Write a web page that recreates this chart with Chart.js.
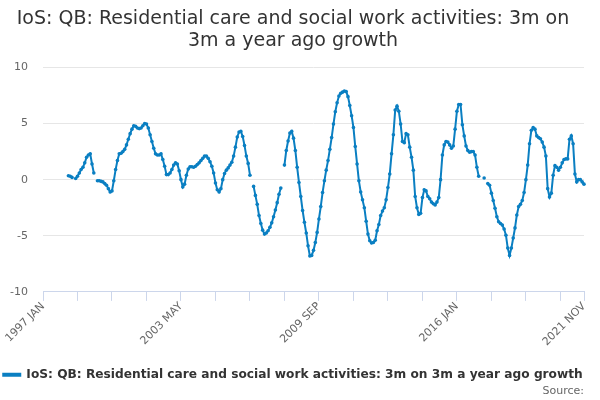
<!DOCTYPE html>
<html>
<head>
<meta charset="utf-8">
<script src="https://cdn.jsdelivr.net/npm/chart.js@4.4.1/dist/chart.umd.min.js"></script>
<style>
  html, body { margin: 0; padding: 0; background: #ffffff; }
  #wrap { width: 600px; height: 400px; }
</style>
</head>
<body>
<div id="wrap"><canvas id="c" width="600" height="400"></canvas></div>
<script>
// ---- data ----
const titleLines = ['IoS: QB: Residential care and social work activities: 3m on', '3m a year ago growth'];
const seriesName = 'IoS: QB: Residential care and social work activities: 3m on 3m a year ago growth';
const sourceText = 'Source:';
const monthNames = ['JAN','FEB','MAR','APR','MAY','JUN','JUL','AUG','SEP','OCT','NOV','DEC'];
const startYear = 1997;
const endYear = 2021, endMonth = 11; // NOV
const yTicks = [-10, -5, 0, 5, 10];
const labelEvery = 76;   // labelled ticks: 1997 JAN, 2003 MAY, 2009 SEP, 2016 JAN, 2021 NOV
const tickEvery = 19;    // minor tick marks

// monthly values, 1997 JAN .. 2021 NOV (null = no value)
const growth = [
  null,null,null,null,null,null,null,null,null,null,null,null,   // 1997
  null,null,0.35,0.3,0.2,null,0.1,0.3,0.6,0.9,1.1,1.5,           // 1998
  2.0,2.2,2.3,1.4,0.6,null,-0.1,-0.1,-0.15,-0.2,-0.35,-0.5,       // 1999
  -0.8,-1.1,-1.0,-0.1,0.9,1.7,2.3,2.35,2.5,2.7,3.1,3.6,           // 2000
  4.1,4.5,4.8,4.75,4.6,4.55,4.6,4.8,5.0,4.95,4.6,4.0,             // 2001
  3.4,2.8,2.3,2.2,2.2,2.3,1.8,1.2,0.45,0.45,0.6,0.9,              // 2002
  1.3,1.5,1.4,0.8,0.0,-0.65,-0.4,0.4,0.95,1.15,1.15,1.1,          // 2003
  1.2,1.35,1.5,1.7,1.9,2.1,2.1,1.9,1.6,1.2,0.6,-0.3,              // 2004
  -0.9,-1.1,-0.8,0.0,0.55,0.85,1.05,1.3,1.55,2.1,2.9,3.8,         // 2005
  4.25,4.3,3.85,3.05,2.1,1.45,0.4,null,-0.6,-1.4,-2.2,-3.2,       // 2006
  -3.9,-4.5,-4.85,-4.75,-4.55,-4.25,-3.85,-3.3,-2.7,-2.05,-1.3,-0.75, // 2007
  null,1.3,2.6,3.45,4.15,4.3,3.7,2.6,1.1,-0.25,-1.5,-2.75,        // 2008
  -3.8,-4.75,-5.9,-6.8,-6.75,-6.3,-5.6,-4.7,-3.5,-2.4,-1.15,-0.1, // 2009
  0.85,1.7,2.7,3.75,4.95,6.05,6.85,7.45,7.7,7.8,7.9,7.85,         // 2010
  7.4,6.6,5.7,4.65,2.95,1.4,-0.1,-1.1,-1.8,-2.5,-3.7,-4.85,       // 2011
  -5.45,-5.65,-5.6,-5.4,-4.55,-4.0,-3.2,-2.8,-2.5,-1.8,-0.7,0.5,  // 2012
  2.3,4.0,6.2,6.55,6.1,4.95,3.4,3.3,4.1,4.0,2.9,2.0,              // 2013
  0.85,-1.5,-2.5,-3.1,-3.0,-1.6,-0.9,-1.0,-1.5,-1.7,-2.0,-2.15,   // 2014
  -2.25,-2.0,-1.6,0.0,2.2,3.1,3.4,3.35,3.1,2.8,3.0,4.5,           // 2015
  6.1,6.7,6.7,4.9,3.9,3.0,2.6,2.45,2.5,2.5,2.2,1.1,               // 2016
  0.3,null,null,0.15,null,-0.35,-0.5,-1.2,-1.85,-2.55,-3.3,-3.75, // 2017
  -3.9,-4.05,-4.4,-4.95,-6.1,-6.75,-6.1,-5.2,-4.3,-3.15,-2.4,-2.2,// 2018
  -1.85,-1.15,0.0,1.3,3.2,4.4,4.65,4.5,3.9,3.75,3.65,3.35,        // 2019
  2.9,2.1,-0.8,-1.55,-1.2,0.4,1.25,1.1,0.85,1.1,1.5,1.8,          // 2020
  1.85,1.85,3.6,3.9,3.2,0.5,-0.2,0.0,0.0,-0.2,-0.4                // 2021 (to NOV)
];

// ---- categories ----
const categories = [];
for (let y = startYear; y <= endYear; y++) {
  for (let m = 0; m < 12; m++) {
    if (y === endYear && m >= endMonth) break;
    categories.push(y + ' ' + monthNames[m]);
  }
}
const lastIndex = categories.length - 1;

const blue = '#0a7fc2';
const fontFam = '"DejaVu Sans", "Noto Sans", sans-serif';

new Chart(document.getElementById('c'), {
  type: 'line',
  data: {
    labels: categories,
    datasets: [{
      label: seriesName,
      data: growth,
      borderColor: blue,
      backgroundColor: blue,
      borderWidth: 2,
      pointRadius: 1.8,
      pointHoverRadius: 3,
      pointBackgroundColor: blue,
      pointBorderWidth: 0,
      tension: 0,
      spanGaps: false
    }]
  },
  options: {
    responsive: false,
    animation: false,
    layout: { padding: { left: 2, right: 16, top: 8, bottom: 2 } },
    plugins: {
      title: {
        display: true,
        text: titleLines,
        color: '#333333',
        font: { family: fontFam, size: 19, weight: 'normal', lineHeight: 1.17 },
        padding: { top: 0, bottom: 15 }
      },
      subtitle: {
        display: true,
        text: sourceText,
        position: 'bottom',
        align: 'end',
        color: '#666666',
        font: { family: fontFam, size: 11 },
        padding: { top: -6, bottom: 0 }
      },
      legend: {
        display: true,
        position: 'bottom',
        align: 'center',
        labels: {
          color: '#333333',
          font: { family: fontFam, size: 12.2, weight: 'bold' },
          usePointStyle: false,
          boxWidth: 17,
          boxHeight: 2,
          padding: 2
        }
      },
      tooltip: { enabled: false }
    },
    scales: {
      x: {
        type: 'category',
        offset: false,
        border: { display: true, color: '#ccd6eb', width: 1 },
        grid: {
          display: true,
          drawOnChartArea: false,
          drawTicks: true,
          tickLength: 9,
          color: '#ccd6eb'
        },
        ticks: {
          autoSkip: false,
          minRotation: 45,
          maxRotation: 45,
          color: '#666666',
          font: { family: fontFam, size: 11 },
          padding: -1,
          callback: function(value, index) {
            if (index % labelEvery === 0 || index === lastIndex) return categories[index];
            if (index % tickEvery === 0) return '';
            return null;
          }
        },
        afterFit: function(scale) { scale.height += 19; }
      },
      y: {
        min: yTicks[0],
        max: yTicks[yTicks.length - 1],
        border: { display: false },
        grid: { color: '#e6e6e6', drawTicks: false },
        ticks: {
          stepSize: 5,
          color: '#666666',
          font: { family: fontFam, size: 11 },
          padding: 15
        },
        afterFit: function(scale) { scale.width = 41; }
      }
    }
  }
});
</script>
</body>
</html>
